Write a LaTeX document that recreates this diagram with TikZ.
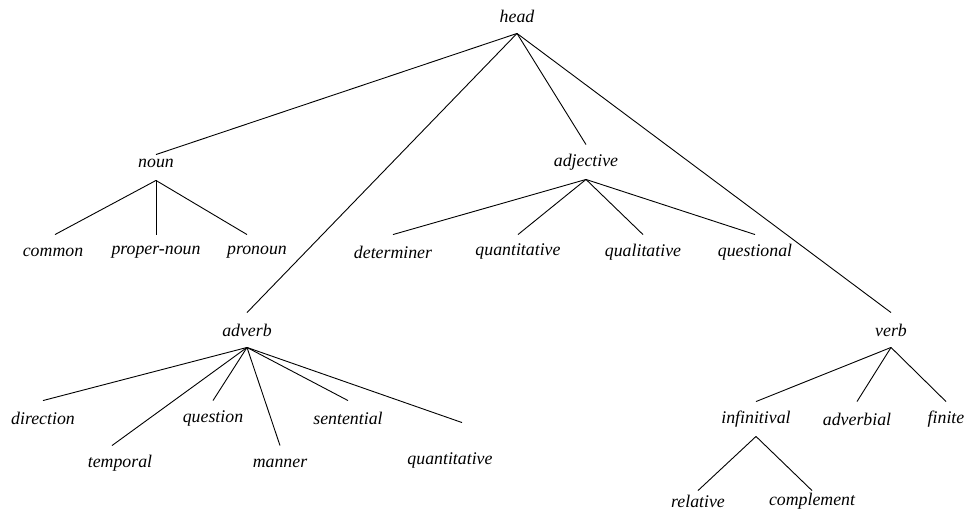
\documentclass[tikz,border=0pt]{standalone}
\usepackage{fontspec}
\setmainfont{Liberation Serif}

\tikzset{every picture/.style={line width=0.9pt}}

\begin{document}
\begin{tikzpicture}[x=1pt,y=-1pt]
\tikzstyle{every node}+=[inner sep=0pt, minimum height=34pt, font=\fontsize{17.8}{20}\selectfont\itshape]
\useasboundingbox (0,0) rectangle (966,516);
% top levels
\node (head) at (517,16) {head};
\node (noun) at (156,163) {noun};
\node (adjective) at (586,162) {adjective};
\node (adverb) at (247,330) {adverb};
\node (verb) at (891,330) {verb};
\draw (head.south) -- ([yshift=-9pt]noun.north);
\draw (head.south) -- (adjective.north);
\draw (head.south) -- (adverb.north);
\draw (head.south) -- (verb.north);
% noun
\node (common) at (53,252) {common};
\node (propernoun) at (156,252) {proper-noun};
\node (pronoun) at (257,252) {pronoun};
\draw (noun.south) -- ([xshift=2pt]common.north);
\draw (noun.south) -- (propernoun.north);
\draw (noun.south) -- ([xshift=-10pt]pronoun.north);
% adjective
\node (determiner) at (393,252) {determiner};
\node (quantadj) at (518,252) {quantitative};
\node (qualitative) at (643,252) {qualitative};
\node (questional) at (755,252) {questional};
\foreach \n in {determiner,quantadj,qualitative,questional}
  \draw (adjective.south) -- (\n.north);
% adverb
\node (direction) at (43,418) {direction};
\node (temporal) at (120,463) {temporal};
\node (question) at (213,418) {question};
\node (manner) at (280,463) {manner};
\node (sentential) at (348,418) {sentential};
\node (quantadv) at (450,460) {quantitative};
\draw (adverb.south) -- (direction.north);
\draw (adverb.south) -- ([xshift=-8pt]temporal.north);
\draw (adverb.south) -- (question.north);
\draw (adverb.south) -- (manner.north);
\draw (adverb.south) -- (sentential.north);
\draw (adverb.south) -- ([xshift=12pt,yshift=20pt]quantadv.north);
% verb
\node (infinitival) at (756,419) {infinitival};
\node (adverbial) at (857,419) {adverbial};
\node (finite) at (946,419) {finite};
\foreach \n in {infinitival,adverbial,finite}
  \draw (verb.south) -- (\n.north);
\node (relative) at (698,501) {relative};
\node (complement) at (812,501) {complement};
\draw (infinitival.south) -- ([yshift=-7pt]relative.north);
\draw (infinitival.south) -- ([yshift=-7pt]complement.north);
\end{tikzpicture}
\end{document}
